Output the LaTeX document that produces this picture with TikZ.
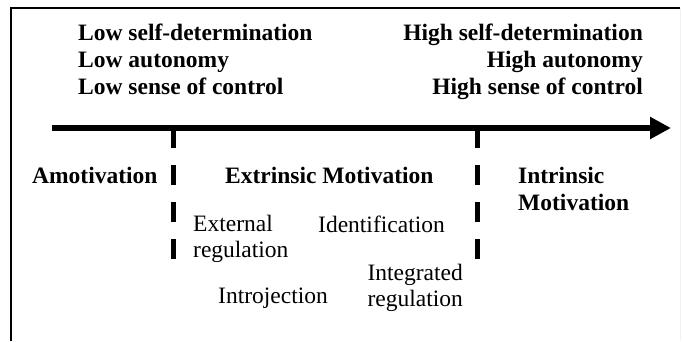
\documentclass[tikz,border=0pt]{standalone}
\usepackage{fontspec}
\setmainfont{Liberation Serif}
\usetikzlibrary{arrows.meta,positioning}
\newcommand{\txtsize}{\fontsize{23.5}{26}\selectfont}
\tikzset{
    framesty/.style={line width=2pt},
    axissty/.style={line width=6.5pt, -{Triangle[length=21pt,width=21pt]}},
    ticksty/.style={line width=5pt, dash pattern=on 20pt off 17pt},
    boldsty/.style={font=\txtsize\bfseries, inner sep=0pt, anchor=base west},
    rboldsty/.style={font=\txtsize\bfseries, inner sep=0pt, anchor=base east},
    plainsty/.style={font=\txtsize, inner sep=0pt, anchor=base west, align=left},
}

\begin{document}
\begin{tikzpicture}[x=1pt,y=-1pt]
  \useasboundingbox (0,0) rectangle (682,341);
  \draw[framesty] (11,341) -- (11,8) -- (680,8);
  \draw[gray!12, line width=1pt] (680,9) -- (680,341);

  % axis
  \coordinate (axl) at (52,128);
  \coordinate (axr) at (671,128);
  \draw[axissty] (axl) -- (axr);

  % ticks
  \coordinate (lt) at (173,128);
  \coordinate (lb) at (173,262);
  \coordinate (rt) at (477,128);
  \coordinate (rb) at (477,262);
  \draw[ticksty] (lt) -- (lb);
  \draw[ticksty] (rt) -- (rb);

  % top labels
  \node[boldsty] (lowsd) at (78,40) {Low self-determination};
  \node[boldsty] (lowau) at (78,67) {Low autonomy};
  \node[boldsty] (lowsc) at (78,94) {Low sense of control};
  \node[rboldsty] (highsd) at (643,40) {High self-determination};
  \node[rboldsty] (highau) at (643,67) {High autonomy};
  \node[rboldsty] (highsc) at (643,94) {High sense of control};

  % bottom labels
  \node[boldsty] (amot) at (32,183) {Amotivation};
  \node[boldsty] (extr) at (225,183) {Extrinsic Motivation};
  \node[boldsty] (intr) at (518,183) {Intrinsic};
  \node[boldsty] (intr2) at (518,210) {Motivation};
  \node[plainsty] (exreg) at (193,257) {External\\regulation};
  \node[plainsty] (ident) at (318,232) {Identification};
  \node[plainsty] (introj) at (218,303) {Introjection};
  \node[plainsty, align=right, anchor=base east] (inreg) at (463,306) {Integrated\\regulation};
\end{tikzpicture}
\end{document}
